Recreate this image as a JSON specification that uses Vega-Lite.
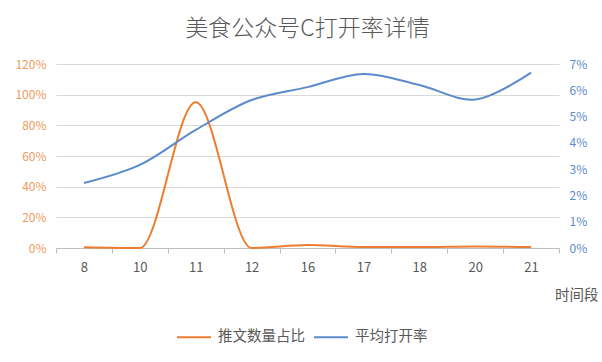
{
  "$schema": "https://vega.github.io/schema/vega-lite/v6.json",
  "width": 503,
  "height": 184,
  "autosize": "none",
  "padding": {"left": 56, "top": 64, "right": 43, "bottom": 114},
  "background": "white",
  "config": {
    "font": "Noto Sans CJK SC",
    "view": {"stroke": null}
  },
  "title": {
    "text": "美食公众号C打开率详情",
    "fontSize": 23,
    "fontWeight": 300,
    "color": "#595959",
    "anchor": "middle",
    "offset": 17
  },
  "data": {
    "values": [
      {"hour": "8", "series": "推文数量占比", "value": 0.005},
      {"hour": "10", "series": "推文数量占比", "value": 0.0},
      {"hour": "11", "series": "推文数量占比", "value": 0.95},
      {"hour": "12", "series": "推文数量占比", "value": 0.0},
      {"hour": "16", "series": "推文数量占比", "value": 0.02},
      {"hour": "17", "series": "推文数量占比", "value": 0.006},
      {"hour": "18", "series": "推文数量占比", "value": 0.006},
      {"hour": "20", "series": "推文数量占比", "value": 0.01},
      {"hour": "21", "series": "推文数量占比", "value": 0.006},
      {"hour": "8", "series": "平均打开率", "value": 0.0247},
      {"hour": "10", "series": "平均打开率", "value": 0.0316},
      {"hour": "11", "series": "平均打开率", "value": 0.0449},
      {"hour": "12", "series": "平均打开率", "value": 0.0563},
      {"hour": "16", "series": "平均打开率", "value": 0.0612},
      {"hour": "17", "series": "平均打开率", "value": 0.0662},
      {"hour": "18", "series": "平均打开率", "value": 0.062},
      {"hour": "20", "series": "平均打开率", "value": 0.0565},
      {"hour": "21", "series": "平均打开率", "value": 0.0667}
    ]
  },
  "encoding": {
    "x": {
      "field": "hour",
      "type": "ordinal",
      "sort": null,
      "bandPosition": 0.5,
      "scale": {"type": "band", "paddingInner": 0, "paddingOuter": 0},
      "axis": {
        "title": "时间段",
        "titleFontSize": 14.5,
        "titleFontWeight": "normal",
        "titleColor": "#595959",
        "titleAlign": "right",
        "titleAnchor": null,
        "titleX": 542,
        "titleY": 47,
        "titleBaseline": "middle",
        "labelAngle": 0,
        "labelFontSize": 13,
        "labelColor": "#595959",
        "labelPadding": 8,
        "tickBand": "extent",
        "tickSize": 5,
        "tickColor": "#BFBFBF",
        "domainColor": "#BFBFBF",
        "grid": false
      }
    },
    "color": {
      "field": "series",
      "type": "nominal",
      "scale": {"domain": ["推文数量占比", "平均打开率"], "range": ["#ED7D31", "#5B8BCB"]},
      "legend": {
        "title": null,
        "orient": "none",
        "direction": "horizontal",
        "legendX": 120,
        "legendY": 255,
        "symbolType": "stroke",
        "symbolSize": 1156,
        "symbolStrokeWidth": 2,
        "labelFontSize": 14.5,
        "labelColor": "#595959",
        "labelOffset": 6,
        "columnPadding": 5
      }
    }
  },
  "layer": [
    {
      "transform": [{"filter": "datum.series === '推文数量占比'"}],
      "mark": {"type": "line", "interpolate": "monotone", "strokeWidth": 2},
      "encoding": {
        "y": {
          "field": "value",
          "type": "quantitative",
          "scale": {"domain": [0, 1.2], "nice": false},
          "axis": {
            "title": null,
            "format": ".0%",
            "values": [0, 0.2, 0.4, 0.6, 0.8, 1.0, 1.2],
            "labelColor": "#EE9A5E",
            "labelFontSize": 12,
            "labelPadding": 10,
            "ticks": false,
            "domain": false,
            "grid": true,
            "gridColor": "#D9D9D9"
          }
        }
      }
    },
    {
      "transform": [{"filter": "datum.series === '平均打开率'"}],
      "mark": {"type": "line", "interpolate": "catmull-rom", "strokeWidth": 2},
      "encoding": {
        "y": {
          "field": "value",
          "type": "quantitative",
          "scale": {"domain": [0, 0.07], "nice": false},
          "axis": {
            "orient": "right",
            "title": null,
            "format": ".0%",
            "values": [0, 0.01, 0.02, 0.03, 0.04, 0.05, 0.06, 0.07],
            "labelColor": "#5B8BCB",
            "labelFontSize": 12,
            "labelPadding": 10,
            "ticks": false,
            "domain": false,
            "grid": false
          }
        }
      }
    }
  ],
  "resolve": {"scale": {"y": "independent"}}
}
